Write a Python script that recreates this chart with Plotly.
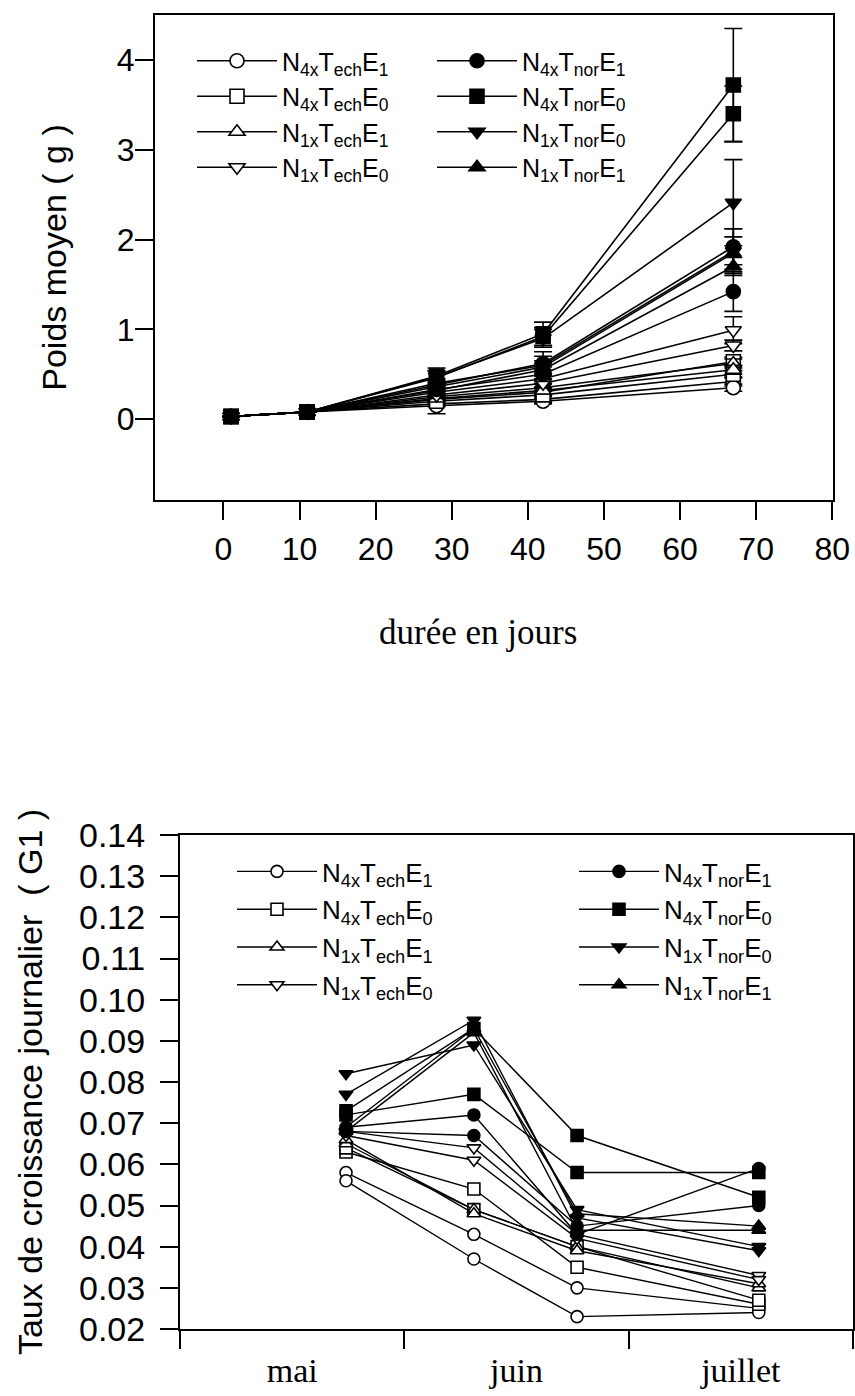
import plotly.graph_objects as go

SANS = "Liberation Sans"
SERIF = "Liberation Serif"

# sampling days for the weight curves
jours = [1, 11, 28, 42, 67]
x_ticks_jours = [0, 10, 20, 30, 40, 50, 60, 70, 80]
y_ticks_poids = [0, 1, 2, 3, 4]

# growth periods, in months counted from 1 May
periodes = [0.74, 1.31, 1.77, 2.58]
mois_pos = [0.5, 1.5, 2.5]
mois_labels = ["mai", "juin", "juillet"]
mois_bornes = [0, 1, 2, 3]
y_ticks_g1 = [0.02, 0.03, 0.04, 0.05, 0.06, 0.07, 0.08, 0.09, 0.10, 0.11, 0.12, 0.13, 0.14]

# mean weight (g): two replicate tanks per treatment
poids_N4xTechE1 = [[0.03, 0.08, 0.17, 0.22, 0.42], [0.03, 0.08, 0.15, 0.20, 0.35]]
poids_N4xTechE0 = [[0.03, 0.08, 0.22, 0.30, 0.64], [0.03, 0.08, 0.20, 0.27, 0.50]]
poids_N1xTechE1 = [[0.03, 0.08, 0.25, 0.35, 0.62], [0.03, 0.08, 0.23, 0.32, 0.55]]
poids_N1xTechE0 = [[0.03, 0.08, 0.30, 0.45, 0.99], [0.03, 0.08, 0.27, 0.40, 0.82]]
poids_N4xTnorE1 = [[0.03, 0.08, 0.38, 0.62, 1.92], [0.03, 0.08, 0.33, 0.50, 1.42]]
poids_N4xTnorE0 = [[0.03, 0.08, 0.48, 0.95, 3.72], [0.03, 0.08, 0.46, 0.92, 3.40]]
poids_N1xTnorE0 = [[0.03, 0.08, 0.47, 0.90, 2.41], [0.03, 0.08, 0.40, 0.60, 1.87]]
poids_N1xTnorE1 = [[0.03, 0.08, 0.36, 0.58, 1.85], [0.03, 0.08, 0.32, 0.55, 1.70]]

# standard deviation of the mean weight
sd_N4xTechE1 = [[0, 0, 0.03, 0.03, 0.05], [0, 0, 0.09, 0.03, 0.04]]
sd_N4xTechE0 = [[0, 0, 0.03, 0.04, 0.05], [0, 0, 0.03, 0.04, 0.04]]
sd_N1xTechE1 = [[0, 0, 0.03, 0.04, 0.05], [0, 0, 0.03, 0.04, 0.05]]
sd_N1xTechE0 = [[0, 0, 0.04, 0.05, 0.15], [0, 0, 0.04, 0.05, 0.06]]
sd_N4xTnorE1 = [[0, 0, 0.05, 0.08, 0.20], [0, 0, 0.04, 0.08, 0.22]]
sd_N4xTnorE0 = [[0, 0, 0.09, 0.13, 0.63], [0, 0, 0.08, 0.10, 0.31]]
sd_N1xTnorE0 = [[0, 0, 0.06, 0.10, 0.48], [0, 0, 0.05, 0.15, 0.25]]
sd_N1xTnorE1 = [[0, 0, 0.05, 0.07, 0.18], [0, 0, 0.04, 0.07, 0.10]]

# daily growth rate G1
g1_N4xTechE1 = [[0.058, 0.043, 0.030, 0.025], [0.056, 0.037, 0.023, 0.024]]
g1_N4xTechE0 = [[0.063, 0.054, 0.035, 0.026], [0.064, 0.049, 0.040, 0.027]]
g1_N1xTechE1 = [[0.065, 0.049, 0.040, 0.030], [0.066, 0.048, 0.039, 0.031]]
g1_N1xTechE0 = [[0.068, 0.064, 0.043, 0.033], [0.067, 0.061, 0.042, 0.032]]
g1_N4xTnorE1 = [[0.069, 0.072, 0.043, 0.059], [0.068, 0.067, 0.045, 0.050]]
g1_N4xTnorE0 = [[0.073, 0.093, 0.067, 0.052], [0.072, 0.077, 0.058, 0.058]]
g1_N1xTnorE0 = [[0.082, 0.089, 0.049, 0.040], [0.077, 0.095, 0.047, 0.039]]
g1_N1xTnorE1 = [[0.069, 0.093, 0.048, 0.045], [0.068, 0.092, 0.044, 0.044]]

# label, marker symbol, filled?, weight, sd, growth, legend column
traitements = [
    ("N<sub>4x</sub>T<sub>ech</sub>E<sub>1</sub>", "circle", False, poids_N4xTechE1, sd_N4xTechE1, g1_N4xTechE1, 0),
    ("N<sub>4x</sub>T<sub>ech</sub>E<sub>0</sub>", "square", False, poids_N4xTechE0, sd_N4xTechE0, g1_N4xTechE0, 0),
    ("N<sub>1x</sub>T<sub>ech</sub>E<sub>1</sub>", "triangle-up", False, poids_N1xTechE1, sd_N1xTechE1, g1_N1xTechE1, 0),
    ("N<sub>1x</sub>T<sub>ech</sub>E<sub>0</sub>", "triangle-down", False, poids_N1xTechE0, sd_N1xTechE0, g1_N1xTechE0, 0),
    ("N<sub>4x</sub>T<sub>nor</sub>E<sub>1</sub>", "circle", True, poids_N4xTnorE1, sd_N4xTnorE1, g1_N4xTnorE1, 1),
    ("N<sub>4x</sub>T<sub>nor</sub>E<sub>0</sub>", "square", True, poids_N4xTnorE0, sd_N4xTnorE0, g1_N4xTnorE0, 1),
    ("N<sub>1x</sub>T<sub>nor</sub>E<sub>0</sub>", "triangle-down", True, poids_N1xTnorE0, sd_N1xTnorE0, g1_N1xTnorE0, 1),
    ("N<sub>1x</sub>T<sub>nor</sub>E<sub>1</sub>", "triangle-up", True, poids_N1xTnorE1, sd_N1xTnorE1, g1_N1xTnorE1, 1),
]

W, H = 855, 1396
fig = go.Figure()


def marker(symbol, filled, size):
    return dict(symbol=symbol, size=size, color="black" if filled else "white",
                line=dict(color="black", width=1.6))


for label, symbol, filled, poids, sd, g1, col in traitements:
    for rep in range(2):
        fig.add_trace(go.Scatter(
            x=jours, y=poids[rep], mode="lines+markers", name=label,
            line=dict(color="black", width=1.6), marker=marker(symbol, filled, 14),
            error_y=dict(type="data", array=sd[rep], color="black", thickness=1.6, width=9),
            legend="legend" if col == 0 else "legend2",
            legendgroup="p" + label, showlegend=(rep == 0),
            xaxis="x", yaxis="y", cliponaxis=False,
        ))
    for rep in range(2):
        fig.add_trace(go.Scatter(
            x=periodes, y=g1[rep], mode="lines+markers", name=label,
            line=dict(color="black", width=1.4), marker=marker(symbol, filled, 12),
            legend="legend3" if col == 0 else "legend4",
            legendgroup="g" + label, showlegend=(rep == 0),
            xaxis="x2", yaxis="y2", cliponaxis=False,
        ))


def legend_cfg(x, y, size, gap):
    return dict(x=x, y=y, xanchor="left", yanchor="top", xref="paper", yref="paper",
                bgcolor="rgba(0,0,0,0)", borderwidth=0,
                font=dict(family=SANS, size=size, color="black"),
                traceorder="grouped", tracegroupgap=gap, itemwidth=80,
                itemclick=False, itemdoubleclick=False)


axis_common = dict(showline=True, linecolor="black", linewidth=2, mirror=True,
                   ticks="outside", ticklen=18, tickwidth=1.6, tickcolor="black",
                   showgrid=False, zeroline=False, automargin=False)

fig.update_layout(
    width=W, height=H, autosize=False,
    margin=dict(l=0, r=0, t=0, b=0, autoexpand=False),
    paper_bgcolor="white", plot_bgcolor="white",
    font=dict(family=SANS, color="black"),
    xaxis=dict(domain=[155 / W, 833 / W], range=[-9, 80.1], tickvals=x_ticks_jours,
               tickfont=dict(size=32), ticklabelstandoff=2,
               anchor="y", **axis_common),
    yaxis=dict(domain=[1 - 500 / H, 1 - 15 / H], range=[-0.9, 4.5], tickvals=y_ticks_poids,
               tickfont=dict(size=32), ticklabelstandoff=-6,
               title=dict(text="Poids moyen ( g )", font=dict(size=34), standoff=40),
               anchor="x", **axis_common),
    xaxis2=dict(domain=[180 / W, 853 / W], range=[0, 3], tickvals=mois_pos, ticktext=mois_labels,
                tickfont=dict(family=SERIF, size=34), ticklabelstandoff=10,
                anchor="y2", **{**axis_common, "ticks": ""},
                minor=dict(tickmode="array", tickvals=mois_bornes, ticks="outside",
                           ticklen=18, tickwidth=1.6, tickcolor="black", showgrid=False)),
    yaxis2=dict(domain=[1 - 1329 / H, 1 - 835 / H], range=[0.02, 0.14], tickvals=y_ticks_g1,
                tickformat=".2f", tickfont=dict(size=34), ticklabelstandoff=8,
                title=dict(text="Taux de croissance journalier  ( G1 )", font=dict(size=34), standoff=26),
                anchor="x2", **axis_common),
    legend=legend_cfg(192 / W, 1 - 38 / H, 25, 0),
    legend2=legend_cfg(432 / W, 1 - 38 / H, 25, 0),
    legend3=legend_cfg(232 / W, 1 - 848 / H, 26, 1),
    legend4=legend_cfg(574 / W, 1 - 848 / H, 26, 1),
    annotations=[dict(text="durée en jours", xref="paper", yref="paper",
                      x=478 / W, y=1 - 632 / H, xanchor="center", yanchor="middle",
                      showarrow=False, font=dict(family=SERIF, size=35, color="black"))],
)

fig.write_html("out.html")
